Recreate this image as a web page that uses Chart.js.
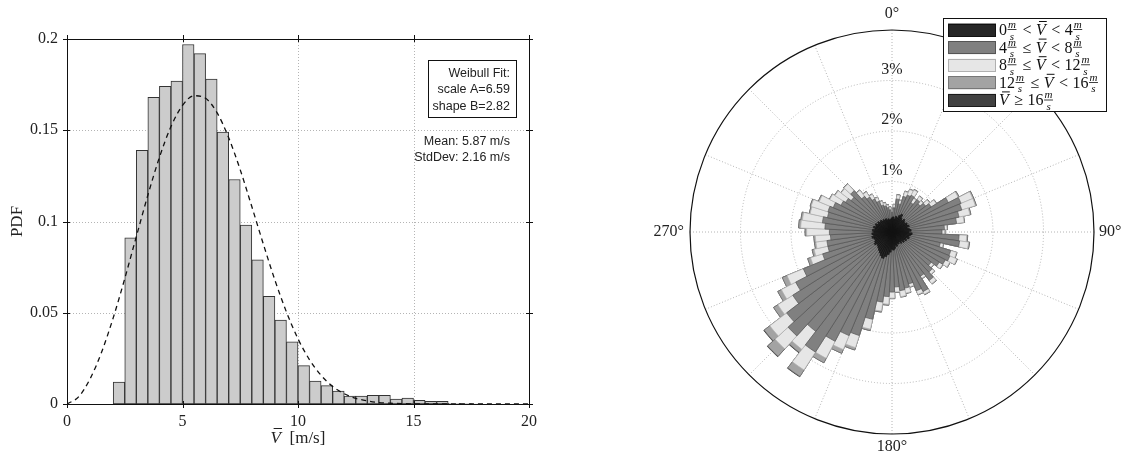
<!DOCTYPE html>
<html>
<head>
<meta charset="utf-8">
<script src="https://cdn.jsdelivr.net/npm/chart.js@4.4.1/dist/chart.umd.min.js"></script>
<style>
  html, body { margin: 0; padding: 0; background: #fff; }
  #wrap { position: relative; width: 1126px; height: 452px; }
  #hist { position: absolute; left: 0; top: 0; }
  #rose { position: absolute; left: 560px; top: 0; }
</style>
</head>
<body>
<div id="wrap">
  <canvas id="hist" width="560" height="452"></canvas>
  <canvas id="rose" width="566" height="452"></canvas>
</div>
<script>
// --- histogram of mean wind speed (bins 0.5 m/s wide) ---
const binCenters = [2.25, 2.75, 3.25, 3.75, 4.25, 4.75, 5.25, 5.75, 6.25, 6.75, 7.25, 7.75,
  8.25, 8.75, 9.25, 9.75, 10.25, 10.75, 11.25, 11.75, 12.25, 12.75, 13.25, 13.75,
  14.25, 14.75, 15.25, 15.75, 16.25, 16.75, 17.25, 17.75];
const pdfValues = [0.012, 0.091, 0.139, 0.168, 0.174, 0.177, 0.197, 0.192, 0.178, 0.149, 0.123, 0.098,
  0.079, 0.059, 0.046, 0.034, 0.021, 0.0126, 0.0101, 0.0071, 0.0044, 0.0044, 0.0048, 0.0048,
  0.0027, 0.0033, 0.0020, 0.0015, 0.0015, 0.0004, 0.0002, 0.0001];

// Weibull fit curve
const fitSpeeds = [0, 0.5, 1, 1.5, 2, 2.5, 3, 3.5, 4, 4.5, 5, 5.5, 6, 6.5, 7, 7.5, 8, 8.5, 9, 9.5, 10,
  10.5, 11, 11.5, 12, 12.5, 13, 13.5, 14, 14.5, 15, 15.5, 16, 16.5, 17, 17.5, 18, 18.5, 19, 19.5, 20];
const fitPdf = [0, 0.0039, 0.0138, 0.0285, 0.0472, 0.0687, 0.0917, 0.1144, 0.1351, 0.1520, 0.1636,
  0.1689, 0.1675, 0.1595, 0.1459, 0.1283, 0.1082, 0.0876, 0.0679, 0.0504, 0.0357,
  0.0242, 0.0157, 0.0096, 0.0056, 0.0031, 0.0017, 0.0008, 0.0004, 0.0002, 0.0001,
  0, 0, 0, 0, 0, 0, 0, 0, 0, 0];

const xTicks = [0, 5, 10, 15, 20];
const yTicks = [0, 0.05, 0.1, 0.15, 0.2];
const fitLines = ['Weibull Fit:', 'scale A=6.59', 'shape B=2.82'];
const statLines = ['Mean: 5.87 m/s', 'StdDev: 2.16 m/s'];

// --- wind rose, 5 degree sectors, percent of time ---
const directions = [0, 5, 10, 15, 20, 25, 30, 35, 40, 45, 50, 55, 60, 65, 70, 75, 80, 85, 90, 95,
  100, 105, 110, 115, 120, 125, 130, 135, 140, 145, 150, 155, 160, 165, 170, 175, 180, 185,
  190, 195, 200, 205, 210, 215, 220, 225, 230, 235, 240, 245, 250, 255, 260, 265, 270, 275,
  280, 285, 290, 295, 300, 305, 310, 315, 320, 325, 330, 335, 340, 345, 350, 355];
const speed0to4 = [0.28, 0.30, 0.26, 0.32, 0.30, 0.36, 0.40, 0.33, 0.30, 0.35, 0.32, 0.30,
  0.34, 0.33, 0.36, 0.31, 0.35, 0.38, 0.33, 0.40, 0.37, 0.34, 0.36, 0.30,
  0.33, 0.28, 0.31, 0.26, 0.29, 0.24, 0.27, 0.25, 0.30, 0.27, 0.33, 0.36,
  0.34, 0.40, 0.45, 0.50, 0.55, 0.52, 0.48, 0.45, 0.42, 0.40, 0.38, 0.42,
  0.39, 0.36, 0.38, 0.41, 0.37, 0.40, 0.36, 0.39, 0.34, 0.38, 0.33, 0.36,
  0.31, 0.34, 0.30, 0.32, 0.28, 0.30, 0.27, 0.29, 0.25, 0.27, 0.24, 0.26];
const speed4to8 = [0.11, 0.18, 0.40, 0.25, 0.44, 0.43, 0.42, 0.36, 0.51, 0.41, 0.52, 0.62,
  0.92, 1.15, 1.09, 1.05, 0.94, 0.66, 0.66, 0.93, 0.98, 0.64, 0.86, 0.94,
  0.86, 0.83, 0.67, 0.82, 0.92, 0.80, 1.06, 1.01, 0.78, 0.87, 0.84, 0.73,
  0.85, 0.88, 0.95, 1.27, 1.60, 1.70, 1.96, 2.37, 2.06, 2.39, 2.25, 1.91,
  1.76, 1.54, 1.06, 0.89, 0.93, 0.82, 0.88, 0.94, 1.05, 0.93, 1.00, 0.90,
  0.83, 0.75, 0.72, 0.79, 0.61, 0.52, 0.47, 0.37, 0.31, 0.26, 0.25, 0.18];
const speed8to12 = [0.05, 0.06, 0.08, 0.07, 0.10, 0.12, 0.12, 0.10, 0.08, 0.08, 0.10, 0.12,
  0.22, 0.25, 0.28, 0.22, 0.15, 0.05, 0.05, 0.15, 0.18, 0.06, 0.12, 0.15,
  0.10, 0.08, 0.06, 0.06, 0.08, 0.05, 0.06, 0.08, 0.06, 0.10, 0.12, 0.10,
  0.12, 0.15, 0.18, 0.20, 0.25, 0.30, 0.38, 0.42, 0.45, 0.35, 0.42, 0.35,
  0.32, 0.35, 0.25, 0.28, 0.22, 0.30, 0.45, 0.48, 0.40, 0.35, 0.35, 0.30,
  0.25, 0.25, 0.25, 0.18, 0.15, 0.12, 0.10, 0.08, 0.08, 0.06, 0.05, 0.05];
const speed12to16 = [0.01, 0.01, 0.01, 0.01, 0.01, 0.01, 0.01, 0.01, 0.01, 0.01, 0.01, 0.01,
  0.02, 0.02, 0.02, 0.02, 0.01, 0.01, 0.01, 0.02, 0.02, 0.01, 0.01, 0.01,
  0.01, 0.01, 0.01, 0.01, 0.01, 0.01, 0.01, 0.01, 0.01, 0.01, 0.01, 0.01,
  0.01, 0.02, 0.02, 0.03, 0.05, 0.08, 0.10, 0.15, 0.08, 0.20, 0.14, 0.10,
  0.08, 0.10, 0.06, 0.04, 0.03, 0.03, 0.03, 0.04, 0.03, 0.02, 0.02, 0.02,
  0.01, 0.01, 0.01, 0.01, 0.01, 0.01, 0.01, 0.01, 0.01, 0.01, 0.01, 0.01];
const speed16up = [0, 0, 0, 0, 0, 0, 0, 0, 0, 0, 0, 0,
  0, 0, 0, 0, 0, 0, 0, 0, 0, 0, 0, 0,
  0, 0, 0, 0, 0, 0, 0, 0, 0, 0, 0, 0,
  0, 0, 0, 0, 0, 0, 0, 0.01, 0.01, 0.01, 0.01, 0,
  0, 0, 0, 0, 0, 0, 0, 0, 0, 0, 0, 0,
  0, 0, 0, 0, 0, 0, 0, 0, 0, 0, 0, 0];
const classLabels = ['0m/s < V\u0304 < 4m/s', '4m/s \u2264 V\u0304 < 8m/s', '8m/s \u2264 V\u0304 < 12m/s',
  '12m/s \u2264 V\u0304 < 16m/s', 'V\u0304 \u2265 16m/s'];
const ringTicks = [1, 2, 3, 4];
const compassLabels = ['0\u00b0', '90\u00b0', '180\u00b0', '270\u00b0'];

const SERIF = '"Liberation Serif", "DejaVu Serif", serif';
const SANS = '"Liberation Sans", Arial, sans-serif';

// ---------- histogram ----------
const histDecor = {
  id: 'histDecor',
  beforeDatasetsDraw(chart) {
    const { ctx, chartArea: a, scales: { x, y } } = chart;
    ctx.save();
    ctx.strokeStyle = '#b4b4b4';
    ctx.lineWidth = 1;
    ctx.setLineDash([1, 2]);
    xTicks.slice(1, -1).forEach(v => {
      const px = Math.round(x.getPixelForValue(v)) + 0.5;
      ctx.beginPath(); ctx.moveTo(px, a.top); ctx.lineTo(px, a.bottom); ctx.stroke();
    });
    yTicks.slice(1, -1).forEach(v => {
      const py = Math.round(y.getPixelForValue(v)) + 0.5;
      ctx.beginPath(); ctx.moveTo(a.left, py); ctx.lineTo(a.right, py); ctx.stroke();
    });
    ctx.restore();
  },
  afterDatasetsDraw(chart) {
    const { ctx, chartArea: a, scales: { x, y } } = chart;
    ctx.save();
    ctx.strokeStyle = '#111';
    ctx.lineWidth = 1;
    ctx.strokeRect(Math.round(a.left) + 0.5, Math.round(a.top) + 0.5,
      Math.round(a.right - a.left), Math.round(a.bottom - a.top));
    ctx.beginPath();
    xTicks.forEach(v => {
      const px = Math.round(x.getPixelForValue(v)) + 0.5;
      ctx.moveTo(px, a.bottom - 3); ctx.lineTo(px, a.bottom + 4);
      ctx.moveTo(px, a.top + 3); ctx.lineTo(px, a.top - 4);
    });
    yTicks.forEach(v => {
      const py = Math.round(y.getPixelForValue(v)) + 0.5;
      ctx.moveTo(a.left + 3, py); ctx.lineTo(a.left - 4, py);
      ctx.moveTo(a.right - 3, py); ctx.lineTo(a.right + 4, py);
    });
    ctx.stroke();
    ctx.restore();
  },
  afterDraw(chart) {
    const { ctx, chartArea: a } = chart;
    ctx.save();
    ctx.fillStyle = '#222';
    // y title
    ctx.translate(18, (a.top + a.bottom) / 2);
    ctx.rotate(-Math.PI / 2);
    ctx.font = '17px ' + SERIF;
    ctx.textAlign = 'center';
    ctx.textBaseline = 'middle';
    ctx.fillText('PDF', 0, 0);
    ctx.restore();

    // x title: V-bar [m/s]
    ctx.save();
    ctx.fillStyle = '#222';
    ctx.textBaseline = 'alphabetic';
    ctx.font = 'italic 17px ' + SERIF;
    const wV = ctx.measureText('V').width;
    ctx.font = '17px ' + SERIF;
    const rest = '  [m/s]';
    const wR = ctx.measureText(rest).width;
    let tx = (a.left + a.right) / 2 - (wV + wR) / 2;
    const base = 443;
    ctx.font = 'italic 17px ' + SERIF;
    ctx.fillText('V', tx, base);
    ctx.fillRect(tx + 3, base - 15, wV - 2, 1);
    ctx.font = '17px ' + SERIF;
    ctx.fillText(rest, tx + wV, base);

    // fit annotation
    ctx.strokeStyle = '#111';
    ctx.lineWidth = 1;
    ctx.strokeRect(Math.round(a.right - 101) + 0.5, Math.round(a.top + 21) + 0.5, 88, 57);
    ctx.font = '12.5px ' + SANS;
    ctx.textAlign = 'right';
    ctx.textBaseline = 'middle';
    fitLines.forEach((t, i) => ctx.fillText(t, a.right - 19, a.top + 34.5 + i * 16.5));
    statLines.forEach((t, i) => ctx.fillText(t, a.right - 19, a.top + 103 + i * 15.5));
    ctx.restore();
  }
};

new Chart(document.getElementById('hist'), {
  type: 'bar',
  data: {
    datasets: [
      {
        type: 'line',
        label: 'Weibull fit',
        data: fitSpeeds.map((v, i) => ({ x: v, y: fitPdf[i] })),
        borderColor: '#111',
        borderWidth: 1.3,
        borderDash: [5, 4],
        pointRadius: 0,
        fill: false,
        cubicInterpolationMode: 'monotone',
        order: 0
      },
      {
        type: 'bar',
        label: 'PDF',
        data: binCenters.map((v, i) => ({ x: v, y: pdfValues[i] })),
        backgroundColor: '#cccccc',
        borderColor: '#333',
        borderWidth: 1,
        borderSkipped: false,
        barPercentage: 1,
        categoryPercentage: 1,
        order: 1
      }
    ]
  },
  options: {
    responsive: false,
    animation: false,
    events: [],
    layout: { padding: { top: 39, right: 31, left: 0, bottom: 0 } },
    plugins: { legend: { display: false }, tooltip: { enabled: false } },
    scales: {
      x: {
        type: 'linear', min: 0, max: 20, offset: false,
        afterBuildTicks: s => { s.ticks = xTicks.map(v => ({ value: v })); },
        afterFit: s => { s.height = 48; },
        grid: { display: false, drawTicks: false },
        border: { display: false },
        ticks: { padding: 8, color: '#222', maxRotation: 0, font: { family: SERIF, size: 16 } }
      },
      y: {
        type: 'linear', min: 0, max: 0.2,
        afterBuildTicks: s => { s.ticks = yTicks.map(v => ({ value: v })); },
        afterFit: s => { s.width = 67; },
        grid: { display: false, drawTicks: false },
        border: { display: false },
        ticks: { padding: 9, color: '#222', callback: v => String(v), font: { family: SERIF, size: 16 } }
      }
    }
  },
  plugins: [histDecor]
});

// ---------- wind rose ----------
const speedClasses = [speed0to4, speed4to8, speed8to12, speed12to16, speed16up];
const classFill = ['#262626', '#808080', '#e6e6e6', '#a3a3a3', '#414141'];
const classEdge = ['#111111', '#555555', '#b0b0b0', '#777777', '#1a1a1a'];

// stacked sectors: each ring is drawn from the centre with the running total
let running = directions.map(() => 0);
const roseDatasets = speedClasses.map((vals, k) => {
  running = running.map((s, i) => s + vals[i]);
  return {
    label: classLabels[k],
    data: running.slice(),
    backgroundColor: classFill[k],
    borderColor: classEdge[k],
    borderWidth: 0.7
  };
});

function drawMathLabel(ctx, text, x, y) {
  text.split(/(m\/s|V\u0304| < | \u2264 | \u2265 )/).filter(p => p).forEach(p => {
    if (p === 'm/s') {
      ctx.font = 'italic 11px ' + SERIF;
      const w = Math.max(ctx.measureText('m').width, ctx.measureText('s').width) + 2;
      ctx.textAlign = 'center';
      ctx.fillText('m', x + w / 2, y - 7);
      ctx.fillText('s', x + w / 2, y + 4.5);
      ctx.fillRect(x + 0.5, y - 5.8, w - 1, 0.8);
      ctx.textAlign = 'left';
      x += w + 1;
    } else if (p === 'V\u0304') {
      ctx.font = 'italic 16px ' + SERIF;
      const w = ctx.measureText('V').width;
      ctx.fillText('V', x, y);
      ctx.fillRect(x + 3, y - 14, w - 2, 1);
      x += w + 1;
    } else if (p.trim().length === 1 && p.length === 3) {
      // relation sign with thick spacing
      ctx.font = '16px ' + SERIF;
      x += 4.5;
      ctx.fillText(p.trim(), x, y);
      x += ctx.measureText(p.trim()).width + 4.5;
    } else {
      ctx.font = '16px ' + SERIF;
      ctx.fillText(p, x, y);
      x += ctx.measureText(p).width;
    }
  });
}

const roseDecor = {
  id: 'roseDecor',
  beforeDatasetsDraw(chart) {
    const { ctx } = chart;
    const r = chart.scales.r;
    const cx = r.xCenter, cy = r.yCenter, R = r.drawingArea;
    ctx.save();
    ctx.strokeStyle = '#b4b4b4';
    ctx.lineWidth = 1;
    ctx.setLineDash([1, 2]);
    for (let k = 0; k < 16; k++) {
      const ang = k * Math.PI / 8 - Math.PI / 2;
      ctx.beginPath();
      ctx.moveTo(cx, cy);
      ctx.lineTo(cx + Math.cos(ang) * R, cy + Math.sin(ang) * R);
      ctx.stroke();
    }
    ringTicks.slice(0, -1).forEach(v => {
      ctx.beginPath();
      ctx.arc(cx, cy, r.getDistanceFromCenterForValue(v), 0, Math.PI * 2);
      ctx.stroke();
    });
    ctx.restore();
  },
  afterDatasetsDraw(chart) {
    const { ctx } = chart;
    const r = chart.scales.r;
    const cx = r.xCenter, cy = r.yCenter, R = r.drawingArea;
    ctx.save();
    ctx.strokeStyle = '#111';
    ctx.lineWidth = 1.2;
    ctx.beginPath();
    ctx.arc(cx, cy, r.getDistanceFromCenterForValue(ringTicks[ringTicks.length - 1]), 0, Math.PI * 2);
    ctx.stroke();

    ctx.fillStyle = '#222';
    ctx.font = '16px ' + SERIF;
    ctx.textBaseline = 'middle';
    ctx.textAlign = 'center';
    ringTicks.slice(0, -1).forEach(v => {
      ctx.fillText(v + '%', cx, cy - r.getDistanceFromCenterForValue(v) - 11);
    });
    ctx.fillText(compassLabels[0], cx, cy - R - 16);
    ctx.fillText(compassLabels[2], cx, cy + R + 13);
    ctx.textAlign = 'left';
    ctx.fillText(compassLabels[1], cx + R + 5, cy);
    ctx.textAlign = 'right';
    ctx.fillText(compassLabels[3], cx - R - 6, cy);

    // legend
    const lx = cx + 51, ly = cy - 214, lw = 163, lh = 93;
    ctx.fillStyle = '#fff';
    ctx.fillRect(lx, ly, lw, lh);
    ctx.strokeStyle = '#111';
    ctx.lineWidth = 1;
    ctx.strokeRect(Math.round(lx) + 0.5, Math.round(ly) + 0.5, lw, lh);
    roseDatasets.forEach((ds, i) => {
      const rowY = ly + 12 + i * 17.6;
      ctx.fillStyle = ds.backgroundColor;
      ctx.fillRect(lx + 5, rowY - 6.5, 48, 13);
      ctx.strokeStyle = ds.borderColor;
      ctx.strokeRect(Math.round(lx + 5) + 0.5, Math.round(rowY - 6.5) + 0.5, 47, 12);
      ctx.fillStyle = '#111';
      ctx.textBaseline = 'alphabetic';
      ctx.textAlign = 'left';
      drawMathLabel(ctx, ds.label, lx + 56, rowY + 5);
    });
    ctx.restore();
  }
};

new Chart(document.getElementById('rose'), {
  type: 'polarArea',
  data: {
    labels: directions.map(d => d + '\u00b0'),
    datasets: roseDatasets
  },
  options: {
    responsive: false,
    animation: false,
    events: [],
    layout: { padding: { left: 130, right: 32, top: 30, bottom: 18 } },
    plugins: { legend: { display: false }, tooltip: { enabled: false } },
    scales: {
      r: {
        min: 0, max: 4,
        startAngle: -2.5,
        ticks: { display: false, stepSize: 1 },
        grid: { display: false },
        angleLines: { display: false },
        pointLabels: { display: false }
      }
    }
  },
  plugins: [roseDecor]
});
</script>
</body>
</html>
